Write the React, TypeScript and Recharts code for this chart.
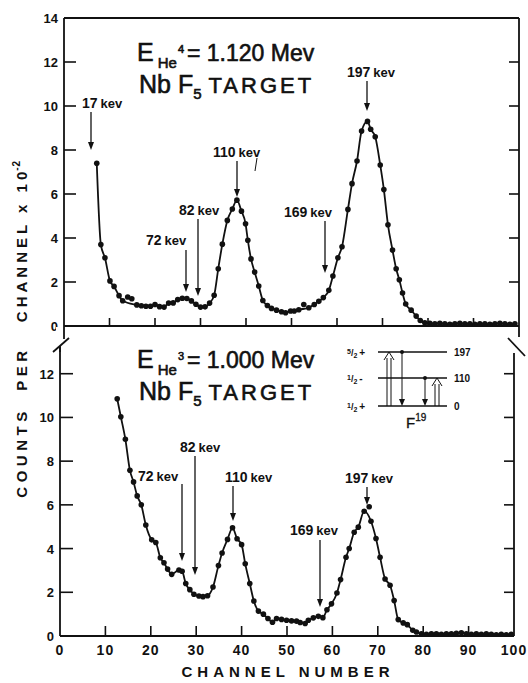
import { LineChart, Line, XAxis, YAxis } from "recharts";

const INK = "#111";
const FONT = "'Liberation Sans', Arial, sans-serif";

const channelTicks = [0, 10, 20, 30, 40, 50, 60, 70, 80, 90, 100];
const topCountTicks = [0, 2, 4, 6, 8, 10, 12, 14];
const bottomCountTicks = [0, 2, 4, 6, 8, 10, 12];

// He4 beam, 1.120 MeV (counts per channel x 10^-2)
const topChannels = [
  7.2, 8.1, 9.0, 10.1, 11.0, 12.1, 12.9, 16.0, 17, 18, 19, 20, 21, 22, 23, 24, 25, 26, 27, 28,
  29, 30, 31, 32, 33, 33.9, 34.8, 35.9, 37, 38, 39, 39.9, 40.4, 41.1, 41.9, 42.8, 43.7, 44.7,
  45.6, 46.7, 47.8, 48.7, 49.8, 50.6, 51.6, 53.8, 55.0, 56.0, 57.0, 58.2, 59.1, 60.2, 61.1,
  62.4, 63.3, 64.4, 65.4, 66.7, 67.4, 68.4, 69.5, 70.3, 71.2, 72.2, 73.0, 73.7, 74.4, 75.1,
  76.3, 77.4, 78.3, 79.3, 80.4, 81.5, 82.6, 83.7, 84.8, 85.9, 87, 88.1, 89.2, 90.3, 91.4,
  92.5, 93.6, 94.7, 95.8, 96.9, 98, 99.1,
];
const topCounts = [
  7.4, 3.7, 3.1, 2.05, 1.8, 1.38, 1.15, 0.96, 0.92, 0.9, 0.9, 0.98, 0.88, 0.86, 1.04, 1.05,
  1.2, 1.26, 1.25, 1.14, 0.99, 0.86, 0.87, 1.04, 1.4, 2.6, 3.72, 4.8, 5.32, 5.72, 5.22, 4.65,
  3.9, 3.05, 2.45, 1.82, 1.16, 0.93, 0.8, 0.72, 0.65, 0.6, 0.68, 0.68, 0.74, 0.83, 0.98, 1.12,
  1.29, 1.62, 2.27, 3.1, 3.6, 5.3, 6.47, 7.5, 8.86, 9.3, 8.94, 8.6, 7.32, 6.2, 4.6, 3.45, 2.6,
  2.1, 1.5, 1.0, 0.72, 0.45, 0.25, 0.15, 0.12, 0.1, 0.12, 0.1, 0.08, 0.1, 0.12, 0.1, 0.1, 0.08,
  0.1, 0.1, 0.08, 0.1, 0.12, 0.1, 0.08, 0.1,
];
// points lying off the drawn curve
const topStrayChannels = [14.0, 14.9, 52.7];
const topStrayCounts = [1.32, 1.24, 0.98];

// He3 beam, 1.000 MeV
const bottomChannels = [
  12.6, 13.4, 14.4, 15.4, 16.2, 17.0, 17.9, 18.9, 20.2, 21.1, 22.1, 22.9, 23.7, 24.6, 26.2,
  26.9, 27.7, 28.6, 29.5, 30.6, 31.5, 32.5, 33.7, 34.9, 35.7, 36.9, 38.0, 39.0, 40.0, 40.8,
  41.8, 42.7, 43.7, 44.8, 45.8, 46.8, 47.7, 48.8, 49.9, 51.0, 52.1, 52.9, 54.0, 54.7, 55.8,
  56.9, 57.9, 58.8, 59.8, 61.0, 61.8, 63.0, 63.7, 64.8, 65.7, 67.0, 68.5, 69.6, 70.5, 71.6,
  72.7, 73.6, 74.5, 75.6, 76.5, 77.7, 78.5, 79.6, 80.7, 81.8, 82.9, 84.0, 85.1, 86.2, 87.3,
  88.4, 89.5, 90.6, 91.7, 92.8, 93.9, 95.0, 96.1, 97.2, 98.3, 99.4,
];
const bottomCounts = [
  10.85, 10.03, 9.0, 7.58, 7.05, 6.41, 6.0, 5.08, 4.4, 4.28, 3.58, 3.35, 3.06, 2.82, 3.02, 2.96,
  2.4, 2.12, 1.91, 1.83, 1.8, 1.84, 2.24, 3.22, 3.8, 4.42, 4.95, 4.45, 4.18, 3.3, 2.4, 1.6,
  1.14, 1.0, 0.8, 0.63, 0.8, 0.76, 0.72, 0.69, 0.68, 0.62, 0.57, 0.72, 0.83, 0.9, 0.84, 1.2,
  1.47, 1.97, 2.58, 3.6, 4.0, 4.75, 4.98, 5.71, 5.25, 4.46, 3.6, 2.61, 2.32, 1.62, 0.75, 0.6,
  0.52, 0.26, 0.18, 0.1, 0.08, 0.1, 0.1, 0.08, 0.1, 0.1, 0.12, 0.15, 0.1, 0.08, 0.1, 0.08, 0.1,
  0.08, 0.06, 0.08, 0.06, 0.08,
];
const bottomStrayChannels = [68.1];
const bottomStrayCounts = [5.91];

const toRows = (ch: number[], v: number[]) => ch.map((c, i) => ({ ch: c, v: v[i] }));

const numStyle = { fontFamily: FONT, fontWeight: 700, fill: INK };
const TICK_W = 1.6;

// ticks point into the plot; labels stay outside
const leftTick = (len: number, top: number) => (p: any) => {
  const v = p.payload.value;
  return (
    <g>
      {v > 0 && v < top && (
        <line x1={p.x} y1={p.y} x2={p.x + len} y2={p.y} stroke={INK} strokeWidth={TICK_W} />
      )}
      <text x={p.x - 6} y={p.y + 5} textAnchor="end" fontSize={13} {...numStyle}>
        {v}
      </text>
    </g>
  );
};
const rightTick = (len: number) => (p: any) => {
  const v = p.payload.value;
  if (v <= 0 || v >= 14) return <g />;
  return <line x1={p.x - len} y1={p.y} x2={p.x} y2={p.y} stroke={INK} strokeWidth={TICK_W} />;
};
const topTick = (len: number) => (p: any) => {
  const v = p.payload.value;
  if (v <= 0 || v >= 100) return <g />;
  return <line x1={p.x} y1={p.y} x2={p.x} y2={p.y + len} stroke={INK} strokeWidth={TICK_W} />;
};
const bottomTick = (len: number, labels: boolean) => (p: any) => {
  const v = p.payload.value;
  return (
    <g>
      {v > 0 && v < 100 && (
        <line x1={p.x} y1={p.y - len} x2={p.x} y2={p.y} stroke={INK} strokeWidth={TICK_W} />
      )}
      {labels && (
        <text x={p.x} y={p.y + 19} textAnchor="middle" fontSize={14} letterSpacing={1} {...numStyle}>
          {v}
        </text>
      )}
    </g>
  );
};

const axisLine = { stroke: INK, strokeWidth: 1.8 };
const dotStyle = { r: 2.8, fill: INK, stroke: INK, strokeWidth: 0 };

function DownArrow({ x, y1, y2 }: { x: number; y1: number; y2: number }) {
  return (
    <g>
      <line x1={x} y1={y1} x2={x} y2={y2 - 5} stroke={INK} strokeWidth={1.3} />
      <path d={`M${x - 3},${y2 - 8} L${x + 3},${y2 - 8} L${x},${y2} Z`} fill={INK} />
    </g>
  );
}

function Note({ x, y, text }: { x: number; y: number; text: string }) {
  const [n, unit] = text.split(" ");
  return (
    <text x={x} y={y} fontFamily={FONT} fontWeight={700} fontSize={14} fill={INK}>
      {n}
      <tspan fontSize={13} dx={3}>{unit}</tspan>
    </text>
  );
}

function Title({ x, y, iso, energy }: { x: number; y: number; iso: string; energy: string }) {
  return (
    <g fontFamily={FONT} fill={INK} stroke={INK} strokeWidth={0.6}>
      <text x={x} y={y} fontSize={25}>
        E
        <tspan fontSize={15} dx={4} dy={7}>He</tspan>
        <tspan fontSize={11} dx={1} dy={-15}>{iso}</tspan>
        <tspan fontSize={23} dx={3} dy={8}>= {energy} Mev</tspan>
      </text>
      <text x={x + 2} y={y + 32} fontSize={25}>
        Nb F
        <tspan fontSize={15} dy={6}>5</tspan>
        <tspan fontSize={22} dx={7} dy={-6} letterSpacing={3}>TARGET</tspan>
      </text>
    </g>
  );
}

function Half({ x, y, num, sign }: { x: number; y: number; num: string; sign: string }) {
  return (
    <text x={x} y={y} fontFamily={FONT} fontWeight={700} fontSize={8} fill={INK}>
      <tspan fontSize={7} dy={-2}>{num}</tspan>
      <tspan fontSize={9} dy={2}>/</tspan>
      <tspan fontSize={7} dy={2}>2</tspan>
      <tspan fontSize={10} dx={2} dy={-2}>{sign}</tspan>
    </text>
  );
}

export default function App() {
  return (
    <div
      style={{
        position: "absolute",
        left: 0,
        top: 0,
        width: 528,
        height: 683,
        background: "#fff",
        overflow: "hidden",
      }}
    >
      <div style={{ position: "absolute", left: 0, top: 0 }}>
        <LineChart width={528} height={340} margin={{ top: 17, right: 8, bottom: 13, left: 0 }}>
          <XAxis
            dataKey="ch"
            type="number"
            domain={[0, 100]}
            ticks={channelTicks}
            interval={0}
            height={1}
            tickSize={0}
            tickMargin={0}
            tickLine={false}
            axisLine={axisLine}
            tick={bottomTick(8, false)}
            allowDataOverflow
          />
          <XAxis
            xAxisId="top"
            orientation="top"
            type="number"
            domain={[0, 100]}
            ticks={channelTicks}
            interval={0}
            height={1}
            tickSize={0}
            tickMargin={0}
            tickLine={false}
            axisLine={axisLine}
            tick={topTick(8)}
            allowDataOverflow
          />
          <YAxis
            type="number"
            domain={[0, 14]}
            ticks={topCountTicks}
            interval={0}
            width={64}
            tickSize={0}
            tickMargin={0}
            tickLine={false}
            axisLine={axisLine}
            tick={leftTick(12, 14)}
            allowDataOverflow
          />
          <YAxis
            yAxisId="right"
            orientation="right"
            type="number"
            domain={[0, 14]}
            ticks={topCountTicks}
            interval={0}
            width={1}
            tickSize={0}
            tickMargin={0}
            tickLine={false}
            axisLine={axisLine}
            tick={rightTick(10)}
            allowDataOverflow
          />
          <Line
            data={toRows(topChannels, topCounts)}
            dataKey="v"
            type="monotone"
            stroke={INK}
            strokeWidth={1.8}
            dot={dotStyle}
            isAnimationActive={false}
          />
          <Line
            data={toRows(topStrayChannels, topStrayCounts)}
            dataKey="v"
            stroke="none"
            dot={dotStyle}
            isAnimationActive={false}
          />
        </LineChart>
      </div>

      <div style={{ position: "absolute", left: 0, top: 330 }}>
        <LineChart width={528} height={353} margin={{ top: 0, right: 13, bottom: 46, left: 0 }}>
          <XAxis
            dataKey="ch"
            type="number"
            domain={[0, 100]}
            ticks={channelTicks}
            interval={0}
            height={1}
            tickSize={0}
            tickMargin={0}
            tickLine={false}
            axisLine={axisLine}
            tick={bottomTick(10, true)}
            allowDataOverflow
          />
          <YAxis
            type="number"
            domain={[0, 14]}
            ticks={bottomCountTicks}
            interval={0}
            width={60}
            tickSize={0}
            tickMargin={0}
            tickLine={false}
            axisLine={axisLine}
            tick={leftTick(13, 14)}
            allowDataOverflow
          />
          <YAxis
            yAxisId="right"
            orientation="right"
            type="number"
            domain={[0, 14]}
            ticks={bottomCountTicks}
            interval={0}
            width={1}
            tickSize={0}
            tickMargin={0}
            tickLine={false}
            axisLine={axisLine}
            tick={rightTick(10)}
            allowDataOverflow
          />
          <Line
            data={toRows(bottomChannels, bottomCounts)}
            dataKey="v"
            type="monotone"
            stroke={INK}
            strokeWidth={1.8}
            dot={dotStyle}
            isAnimationActive={false}
          />
          <Line
            data={toRows(bottomStrayChannels, bottomStrayCounts)}
            dataKey="v"
            stroke="none"
            dot={dotStyle}
            isAnimationActive={false}
          />
        </LineChart>
      </div>

      <svg
        width={528}
        height={683}
        style={{ position: "absolute", left: 0, top: 0, pointerEvents: "none" }}
      >
        {/* axis breaks */}
        <rect x={56} y={327} width={10} height={20} fill="#fff" />
        <line x1={64} y1={326} x2={64} y2={339} stroke={INK} strokeWidth={1.8} />
        <line x1={53} y1={352} x2={69} y2={338} stroke={INK} strokeWidth={1.8} />
        <line x1={60} y1={346} x2={60} y2={352} stroke={INK} strokeWidth={1.8} />
        <rect x={510} y={327} width={12} height={26} fill="#fff" />
        <line x1={519} y1={326} x2={519} y2={337} stroke={INK} strokeWidth={1.8} />
        <line x1={508} y1={338} x2={525} y2={356} stroke={INK} strokeWidth={1.8} />

        {/* axis titles */}
        <text
          transform="translate(27 422) rotate(-90)"
          textAnchor="middle"
          fontFamily={FONT}
          fontWeight={700}
          fontSize={15}
          letterSpacing={4.5}
          wordSpacing={8}
          fill={INK}
        >
          COUNTS PER
        </text>
        <text
          transform="translate(27 241) rotate(-90)"
          textAnchor="middle"
          fontFamily={FONT}
          fontWeight={700}
          fontSize={15}
          letterSpacing={4}
          fill={INK}
        >
          CHANNEL x 1<tspan letterSpacing={1}>0</tspan>
          <tspan fontSize={10} dy={-7} letterSpacing={1}>-2</tspan>
        </text>
        <text
          x={288}
          y={677}
          textAnchor="middle"
          fontFamily={FONT}
          fontWeight={700}
          fontSize={15}
          letterSpacing={5}
          fill={INK}
        >
          CHANNEL NUMBER
        </text>

        {/* top panel notes */}
        <Title x={137} y={61} iso="4" energy="1.120" />
        <Note x={82} y={108} text="17 kev" />
        <DownArrow x={91} y1={112} y2={150} />
        <Note x={213} y={157} text="110 kev" />
        <DownArrow x={237} y1={161} y2={197} />
        <line x1={257} y1={158} x2={255} y2={171} stroke={INK} strokeWidth={1} />
        <Note x={179} y={215} text="82 kev" />
        <DownArrow x={198} y1={219} y2={296} />
        <Note x={146} y={245} text="72 kev" />
        <DownArrow x={186} y1={250} y2={292} />
        <Note x={284} y={217} text="169 kev" />
        <DownArrow x={325} y1={221} y2={273} />
        <Note x={347} y={77} text="197 kev" />
        <DownArrow x={367} y1={81} y2={111} />

        {/* bottom panel notes */}
        <Title x={137} y={368} iso="3" energy="1.000" />
        <Note x={138} y={481} text="72 kev" />
        <DownArrow x={182} y1={484} y2={561} />
        <Note x={180} y={452} text="82 kev" />
        <DownArrow x={195} y1={456} y2={575} />
        <Note x={225} y={482} text="110 kev" />
        <DownArrow x={233} y1={486} y2={521} />
        <Note x={290} y={535} text="169 kev" />
        <DownArrow x={320} y1={540} y2={607} />
        <Note x={345} y={483} text="197 kev" />
        <DownArrow x={367} y1={487} y2={505} />

        {/* F19 level scheme */}
        <g stroke={INK} strokeWidth={1.4}>
          <line x1={378} y1={352} x2={447} y2={352} />
          <line x1={378} y1={378} x2={447} y2={378} />
          <line x1={378} y1={406} x2={447} y2={406} />
          <line x1={387} y1={406} x2={387} y2={358} strokeWidth={1} />
          <line x1={391} y1={406} x2={391} y2={358} strokeWidth={1} />
          <polyline points="384,360 389,352 394,360" fill="none" strokeWidth={1} />
          <line x1={402} y1={352} x2={402} y2={400} strokeWidth={1} />
          <line x1={425} y1={378} x2={425} y2={400} strokeWidth={1} />
          <line x1={435} y1={406} x2={435} y2={384} strokeWidth={1} />
          <line x1={439} y1={406} x2={439} y2={384} strokeWidth={1} />
          <polyline points="432,386 437,378 442,386" fill="none" strokeWidth={1} />
        </g>
        <circle cx={402} cy={352} r={2} fill={INK} />
        <circle cx={425} cy={378} r={2} fill={INK} />
        <path d="M399,399 L405,399 L402,406 Z" fill={INK} />
        <path d="M422,399 L428,399 L425,406 Z" fill={INK} />
        <Half x={347} y={356} num="5" sign="+" />
        <Half x={347} y={382} num="1" sign="-" />
        <Half x={347} y={410} num="1" sign="+" />
        <g fontFamily={FONT} fontWeight={700} fontSize={10} fill={INK}>
          <text x={454} y={356}>197</text>
          <text x={454} y={382}>110</text>
          <text x={454} y={410}>0</text>
        </g>
        <text x={406} y={428} fontFamily={FONT} fontSize={15} fill={INK} stroke={INK} strokeWidth={0.3}>
          F<tspan fontSize={10} dy={-7}>19</tspan>
        </text>
      </svg>
    </div>
  );
}
